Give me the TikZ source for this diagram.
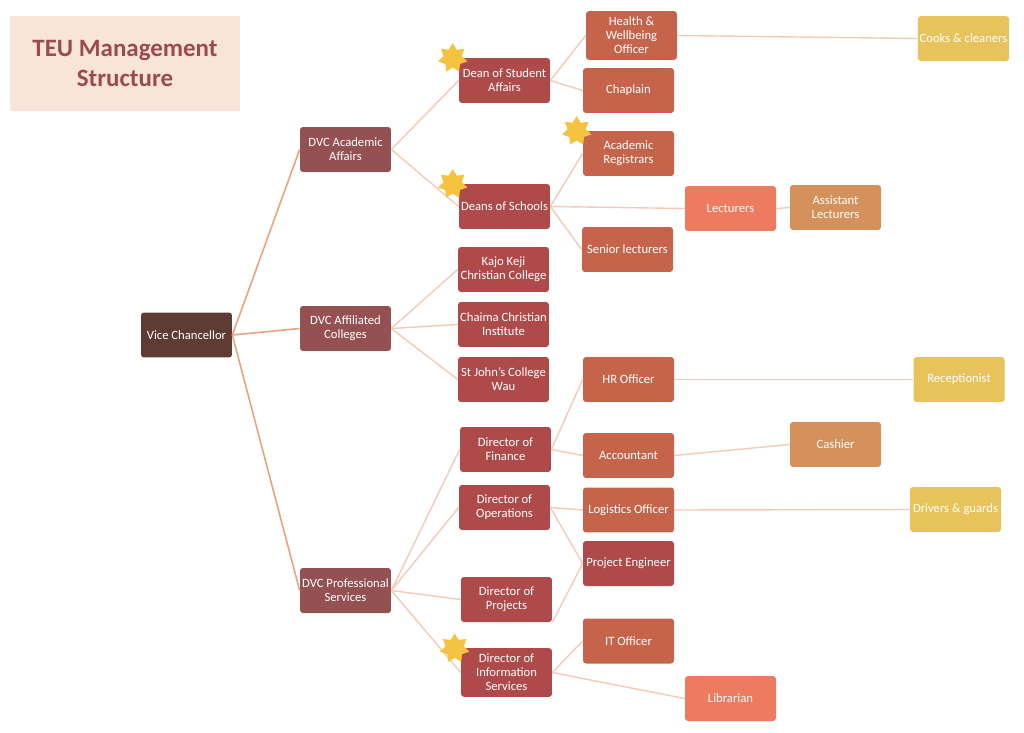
\documentclass[tikz,border=0pt]{standalone}
\usepackage{fontspec}
\setmainfont{Carlito}
\usetikzlibrary{shapes.geometric}
\definecolor{vcbrown}{HTML}{5E3C33}
\definecolor{dvcred}{HTML}{955152}
\definecolor{deepred}{HTML}{AE4A4A}
\definecolor{rust}{HTML}{C6644B}
\definecolor{salmon}{HTML}{EE7B5F}
\definecolor{ochre}{HTML}{D5915C}
\definecolor{gold}{HTML}{E8C35B}
\definecolor{starcol}{HTML}{F4C440}
\definecolor{linkdark}{HTML}{EAA27D}
\definecolor{linklight}{HTML}{F4C9B6}
\definecolor{titlebg}{HTML}{F8E5D8}
\definecolor{titletxt}{HTML}{9B4A4D}
\begin{document}
\begin{tikzpicture}[x=0.02cm, y=-0.02cm,
    box/.style={rounded corners=1.7pt, minimum width=1.82cm, minimum height=0.9cm, inner xsep=1pt,
      align=center, text=white, font={\fontsize{7.2}{8}\selectfont}},
    link/.style={draw=linklight, line width=0.8pt},
    mainlink/.style={draw=linkdark, line width=0.9pt},
    badge/.style={star, star points=7, star point ratio=1.6, fill=starcol, minimum size=0.6cm, inner sep=0pt}]
  \useasboundingbox (0,0) rectangle (1024,733);
  % title
  \node[fill=titlebg, minimum width=4.6cm, minimum height=1.9cm, align=center, text=titletxt,
    font={\fontsize{14.2}{17}\selectfont\bfseries}] (title) at (125,63.5) {TEU Management\\Structure};
  % top
  \node[box, fill=vcbrown] (vc) at (186.5,335) {Vice Chancellor};
  % deputy vice chancellors
  \foreach \nm/\x/\y/\txt in {dvcA/345.5/149.5/{DVC Academic\\Affairs},
      dvcC/345.5/328.5/{DVC Affiliated\\Colleges},
      dvcP/345.5/590.5/{DVC Professional\\Services}} {
    \node[box, fill=dvcred] (\nm) at (\x,\y) {\txt};
  }
  % deans, colleges, directors
  \foreach \nm/\x/\y/\txt in {dsa/504.5/80.5/{Dean of Student\\Affairs},
      dos/504.5/206.5/{Deans of Schools},
      kajo/503.5/269.5/{Kajo Keji\\Christian College},
      chaima/503.5/324.5/{Chaima Christian\\Institute},
      stj/503.5/379.5/{St John's College\\Wau},
      dfin/505.5/449.5/{Director of\\Finance},
      dops/504.5/507.5/{Director of\\Operations},
      dproj/506.5/599.5/{Director of\\Projects},
      dinfo/506.5/672.5/{Director of\\Information\\Services},
      peng/628.5/563.5/{Project Engineer}} {
    \node[box, fill=deepred] (\nm) at (\x,\y) {\txt};
  }
  % officers
  \foreach \nm/\x/\y/\txt in {health/631.5/35.5/{Health \&\\Wellbeing\\Officer},
      chap/628.5/90.5/{Chaplain},
      areg/628.5/153.5/{Academic\\Registrars},
      slec/627.5/249.5/{Senior lecturers},
      hr/628.5/379.5/{HR Officer},
      acc/628.5/455.5/{Accountant},
      logi/628.5/510/{Logistics Officer},
      itof/628.5/641/{IT Officer}} {
    \node[box, fill=rust] (\nm) at (\x,\y) {\txt};
  }
  \foreach \nm/\x/\y/\txt in {lect/730.5/208.5/{Lecturers},
      libr/730.5/698.5/{Librarian}} {
    \node[box, fill=salmon] (\nm) at (\x,\y) {\txt};
  }
  \foreach \nm/\x/\y/\txt in {alect/835.5/207.5/{Assistant\\Lecturers},
      cash/835.5/444.5/{Cashier}} {
    \node[box, fill=ochre] (\nm) at (\x,\y) {\txt};
  }
  \foreach \nm/\x/\y/\txt in {cooks/963.5/38.5/{Cooks \& cleaners},
      recep/959/379.5/{Receptionist},
      drv/955.5/509.5/{Drivers \& guards}} {
    \node[box, fill=gold] (\nm) at (\x,\y) {\txt};
  }
  % connectors
  \foreach \b in {dvcA,dvcC,dvcP} {
    \draw[mainlink] (vc.east) -- (\b.west);
  }
  \foreach \a/\b in {dvcA/dsa, dvcA/dos, dsa/health, dsa/chap, health/cooks,
      dos/areg, dos/lect, dos/slec, lect/alect,
      dvcC/kajo, dvcC/chaima, dvcC/stj,
      dvcP/dfin, dvcP/dops, dvcP/dproj, dvcP/dinfo,
      dfin/hr, dfin/acc, hr/recep, acc/cash,
      dops/logi, dops/peng, logi/drv,
      dinfo/itof, dinfo/libr} {
    \draw[link] (\a.east) -- (\b.west);
  }
  \draw[link] (dproj.south east) -- (peng.west);
  % stars
  \foreach \nm in {dsa,dos,areg,dinfo} {
    \node[badge] (star-\nm) at ([xshift=-0.12cm, yshift=-0.01cm]\nm.north west) {};
  }
\end{tikzpicture}
\end{document}
